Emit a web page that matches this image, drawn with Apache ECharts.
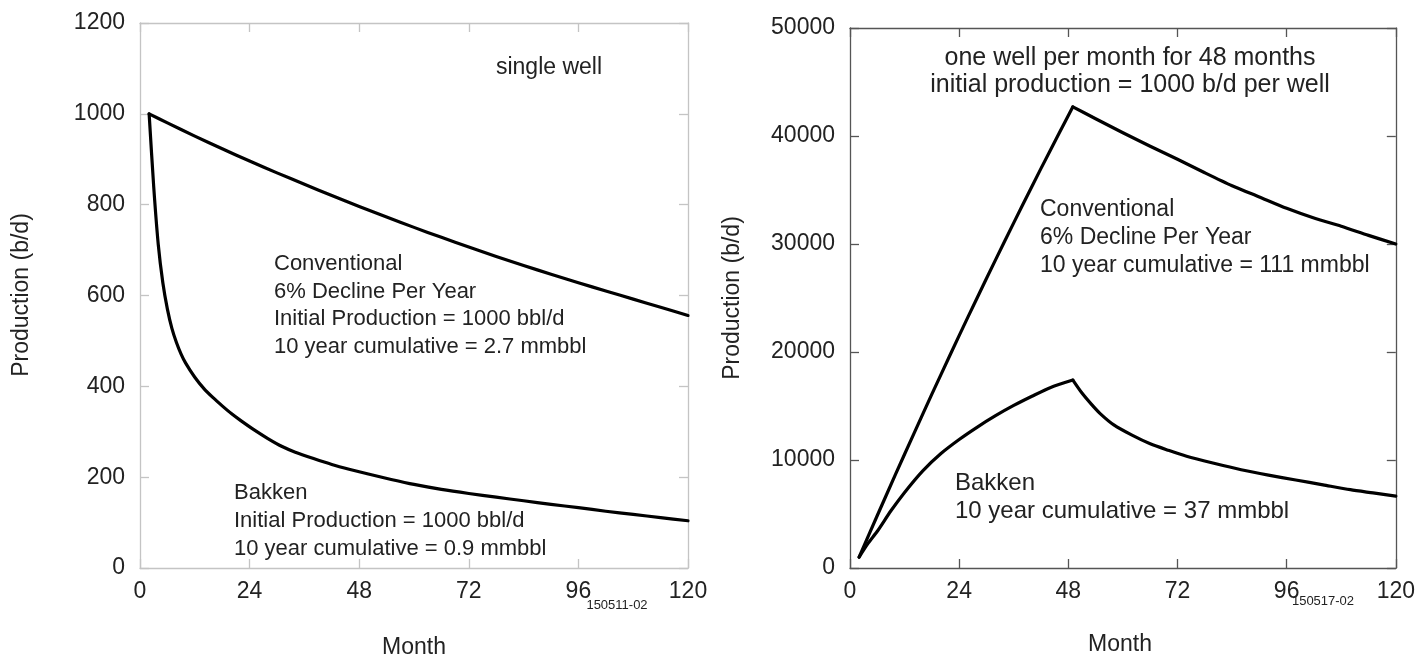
<!DOCTYPE html>
<html>
<head>
<meta charset="utf-8">
<script src="https://cdn.jsdelivr.net/npm/echarts@6/dist/echarts.min.js"></script>
<style>
html,body{margin:0;padding:0;background:#fff;}
#chart{width:1418px;height:657px;}
</style>
</head>
<body>
<div id="chart"></div>
<script>
// ---- Data ----
// Left: single well
const leftConvMonths = [2, 6, 12, 18, 24, 30, 36, 42, 48, 54, 60, 66, 72, 78, 84, 90, 96, 102, 108, 114, 120];
const leftConvValues = [1000, 980, 951, 923, 896, 870, 845, 820, 796, 773, 750, 728, 707, 686, 666, 647, 628, 610, 592, 574, 556];

const leftBakkenMonths = [2, 3, 4, 5, 6, 7, 8, 9, 10, 12, 14, 16, 18, 20, 22, 25, 28, 31, 34, 38, 42, 46, 50, 55, 60, 66, 72, 78, 84, 90, 96, 102, 108, 114, 120];
const leftBakkenValues = [1000, 840, 712, 628, 570, 527, 496, 471, 451, 420, 395, 375, 357, 340, 325, 304, 285, 268, 255, 241, 228, 217, 207, 195, 184, 173, 164, 156, 148, 140, 133, 125, 118, 111, 104];

// Right: one well per month for 48 months
const rightConvMonths = [2, 6, 10, 14, 18, 22, 26, 30, 34, 38, 42, 46, 49, 54, 60, 66, 72, 78, 84, 90, 96, 102, 108, 114, 120];
const rightConvValues = [1000, 4860, 8660, 12400, 16100, 19720, 23300, 26800, 30260, 33650, 37000, 40280, 42700, 41600, 40300, 39050, 37850, 36600, 35400, 34350, 33300, 32400, 31650, 30800, 30000];

const rightBakkenMonths = [2, 4, 6, 9, 12, 16, 20, 24, 28, 32, 36, 40, 44, 49, 51, 53, 55, 58, 62, 66, 70, 74, 80, 86, 92, 98, 104, 110, 115, 120];
const rightBakkenValues = [1000, 2300, 3400, 5300, 7000, 9000, 10600, 11900, 13050, 14100, 15050, 15900, 16700, 17400, 16200, 15200, 14300, 13250, 12300, 11500, 10900, 10350, 9700, 9100, 8600, 8150, 7700, 7250, 6950, 6650];

const xMax = 120, xInterval = 24;
const leftYMax = 1200, leftYInterval = 200;
const rightYMax = 50000, rightYInterval = 10000;

// ---- Build ----
function zip(a, b) { return a.map((m, i) => [m, b[i]]); }
function peakIndex(v) { let k = 0; v.forEach((x, i) => { if (x > v[k]) k = i; }); return k; }
const FONT = '"Liberation Sans", Arial, sans-serif';
const TXT = '#222';

function axisSet(gridIndex, color, isX, pos, showLabel, max, interval) {
  return {
    type: 'value', gridIndex: gridIndex, position: pos,
    min: 0, max: max, interval: interval,
    axisLine: { show: true, onZero: false, lineStyle: { color: color, width: 1.3 } },
    axisTick: { show: true, inside: true, length: 9, lineStyle: { color: color, width: 1.3 } },
    axisLabel: { show: showLabel, color: TXT, fontFamily: FONT, fontSize: 23, margin: isX ? 12 : 15,
                 formatter: v => String(v) },
    splitLine: { show: false }
  };
}

const leftColor = '#c4c4c4';
const rightColor = '#555';

const lineStyle = { showSymbol: false, symbol: 'none', smooth: 0.25,
  lineStyle: { color: '#000', width: 3.2, join: 'round', cap: 'round' } };

function mk(xi, months, values) {
  return Object.assign({ type: 'line', xAxisIndex: xi, yAxisIndex: xi, data: zip(months, values) }, lineStyle);
}
function mkSplit(xi, months, values) {
  const k = peakIndex(values);
  return [mk(xi, months.slice(0, k + 1), values.slice(0, k + 1)),
          mk(xi, months.slice(k), values.slice(k))];
}

const option = {
  animation: false,
  backgroundColor: '#fff',
  grid: [
    { left: 140, top: 23, width: 548, height: 545 },
    { left: 850, top: 28, width: 547, height: 540 }
  ],
  xAxis: [
    axisSet(0, leftColor, true, 'bottom', true, xMax, xInterval),
    axisSet(0, leftColor, true, 'top', false, xMax, xInterval),
    axisSet(1, rightColor, true, 'bottom', true, xMax, xInterval),
    axisSet(1, rightColor, true, 'top', false, xMax, xInterval)
  ],
  yAxis: [
    axisSet(0, leftColor, false, 'left', true, leftYMax, leftYInterval),
    axisSet(0, leftColor, false, 'right', false, leftYMax, leftYInterval),
    axisSet(1, rightColor, false, 'left', true, rightYMax, rightYInterval),
    axisSet(1, rightColor, false, 'right', false, rightYMax, rightYInterval)
  ],
  series: [].concat(
    [mk(0, leftConvMonths, leftConvValues), mk(0, leftBakkenMonths, leftBakkenValues)],
    mkSplit(2, rightConvMonths, rightConvValues),
    mkSplit(2, rightBakkenMonths, rightBakkenValues)
  ),
  graphic: []
};

function txt(x, y, text, opts) {
  return {
    type: 'text', x: x, y: y, silent: true,
    style: Object.assign({ text: text, fill: TXT, font: '22px ' + FONT, textVerticalAlign: 'middle' }, opts || {})
  };
}
function lines(x, y0, step, arr, align, size) {
  return arr.map((t, i) => txt(x, y0 + i * step, t, { textAlign: align || 'left', font: (size || 22) + 'px ' + FONT }));
}

option.graphic = [].concat(
  // left panel
  [txt(549, 68, 'single well', { textAlign: 'center', font: '23px ' + FONT })],
  lines(274, 264, 27.5, ['Conventional', '6% Decline Per Year', 'Initial Production = 1000 bbl/d', '10 year cumulative = 2.7 mmbbl']),
  lines(234, 493, 28, ['Bakken', 'Initial Production = 1000 bbl/d', '10 year cumulative = 0.9 mmbbl']),
  [txt(414, 648, 'Month', { textAlign: 'center', font: '23px ' + FONT }),
   txt(617, 605, '150511-02', { textAlign: 'center', font: '13px ' + FONT }),
   Object.assign(txt(22, 295, 'Production (b/d)', { textAlign: 'center', font: '23px ' + FONT }), { rotation: Math.PI / 2 })],
  // right panel
  lines(1130, 58, 27, ['one well per month for 48 months', 'initial production = 1000 b/d per well'], 'center', 25),
  lines(1040, 210, 28, ['Conventional', '6% Decline Per Year', '10 year cumulative = 111 mmbbl'], 'left', 23),
  lines(955, 483, 28, ['Bakken', '10 year cumulative = 37 mmbbl'], 'left', 24),
  [txt(1120, 645, 'Month', { textAlign: 'center', font: '23px ' + FONT }),
   txt(1323, 601, '150517-02', { textAlign: 'center', font: '13px ' + FONT }),
   Object.assign(txt(733, 298, 'Production (b/d)', { textAlign: 'center', font: '23px ' + FONT }), { rotation: Math.PI / 2 })]
);

const chart = echarts.init(document.getElementById('chart'), null, { renderer: 'canvas' });
chart.setOption(option);
</script>
</body>
</html>
